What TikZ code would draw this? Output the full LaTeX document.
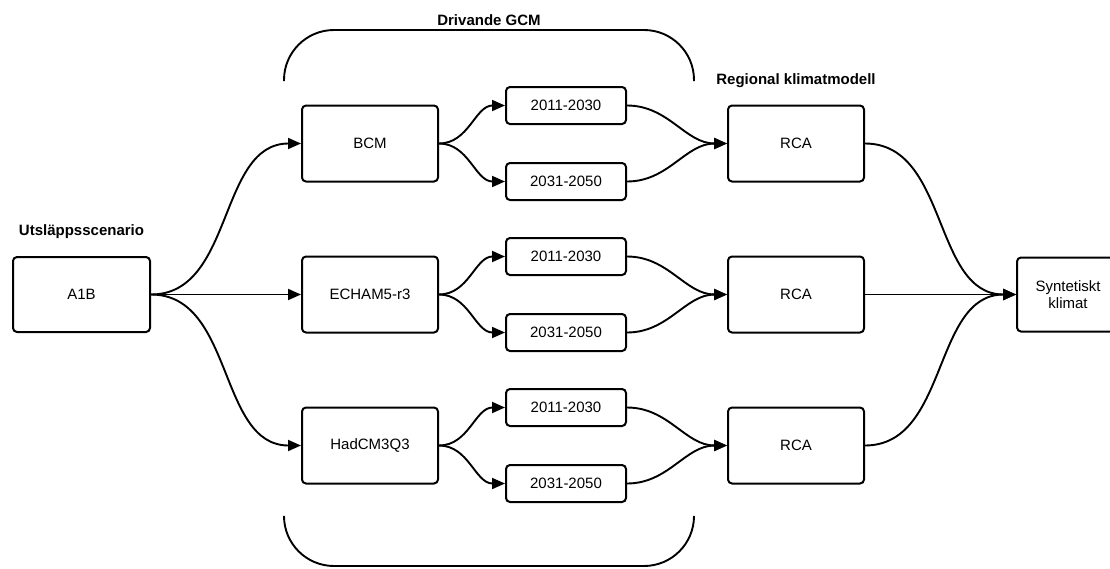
\documentclass[tikz,border=0pt]{standalone}
\usepackage{fontspec}
\setmainfont{Liberation Sans}
\usetikzlibrary{arrows.meta}
\begin{document}
\begin{tikzpicture}[x=1pt,y=-1pt,
  every node/.style={font=\fontsize{15}{17.5}\selectfont},
  box/.style={draw, line width=2pt, rounded corners=4pt, minimum width=136pt, minimum height=76pt, inner sep=0pt, align=center},
  tbox/.style={draw, line width=2pt, rounded corners=4pt, minimum width=120pt, minimum height=37pt, inner sep=0pt},
  head/.style={font=\fontsize{15}{17.5}\selectfont\bfseries},
  conn/.style={line width=1.9pt, -{Triangle[length=13pt,width=11pt]}},
  brace/.style={line width=1.9pt, rounded corners=50pt}]
\useasboundingbox (0,0) rectangle (1110,568);
\clip (0,0) rectangle (1110,568);
% headings
\node[head] (hUts) at (81.5,232) {Utsläppsscenario};
\node[head] (hGCM) at (489,20) {Drivande GCM};
\node[head] (hReg) at (796,81) {Regional klimatmodell};
% brackets
\draw[brace] (284,81) -- (284,30) -- (694,30) -- (694,81);
\draw[brace] (284,518) -- (284,566) -- (694,566) -- (694,518);
% nodes
\node[box, minimum width=137pt, minimum height=75pt] (a1b) at (81.5,294.5) {A1B};
\node[box] (bcm) at (370,143.5) {BCM};
\node[box] (ech) at (370,294.5) {ECHAM5-r3};
\node[box] (had) at (370,445.5) {HadCM3Q3};
\node[tbox] (b1) at (566,105.5) {2011-2030};
\node[tbox] (b2) at (566,181.5) {2031-2050};
\node[tbox] (e1) at (566,256.5) {2011-2030};
\node[tbox] (e2) at (566,332.5) {2031-2050};
\node[tbox] (h1) at (566,407.5) {2011-2030};
\node[tbox] (h2) at (566,483.5) {2031-2050};
\node[box] (r1) at (796,143.5) {RCA};
\node[box] (r2) at (796,294.5) {RCA};
\node[box] (r3) at (796,445.5) {RCA};
\node[box, minimum width=102pt, minimum height=74pt] (syn) at (1068,294.5) {Syntetiskt\\klimat};
% connectors
\draw[conn] (a1b.east) to[out=0,in=180] (bcm.west);
\draw[conn] (a1b.east) -- (ech.west);
\draw[conn] (a1b.east) to[out=0,in=180] (had.west);
\foreach \g/\u/\l/\r in {bcm/b1/b2/r1, ech/e1/e2/r2, had/h1/h2/r3}{
  \draw[conn] (\g.east) to[out=0,in=180] (\u.west);
  \draw[conn] (\g.east) to[out=0,in=180] (\l.west);
  \draw[conn] (\u.east) to[out=0,in=180] (\r.west);
  \draw[conn] (\l.east) to[out=0,in=180] (\r.west);
}
\draw[conn] (r1.east) to[out=0,in=180] (syn.west);
\draw[conn] (r2.east) -- (syn.west);
\draw[conn] (r3.east) to[out=0,in=180] (syn.west);
\end{tikzpicture}
\end{document}
